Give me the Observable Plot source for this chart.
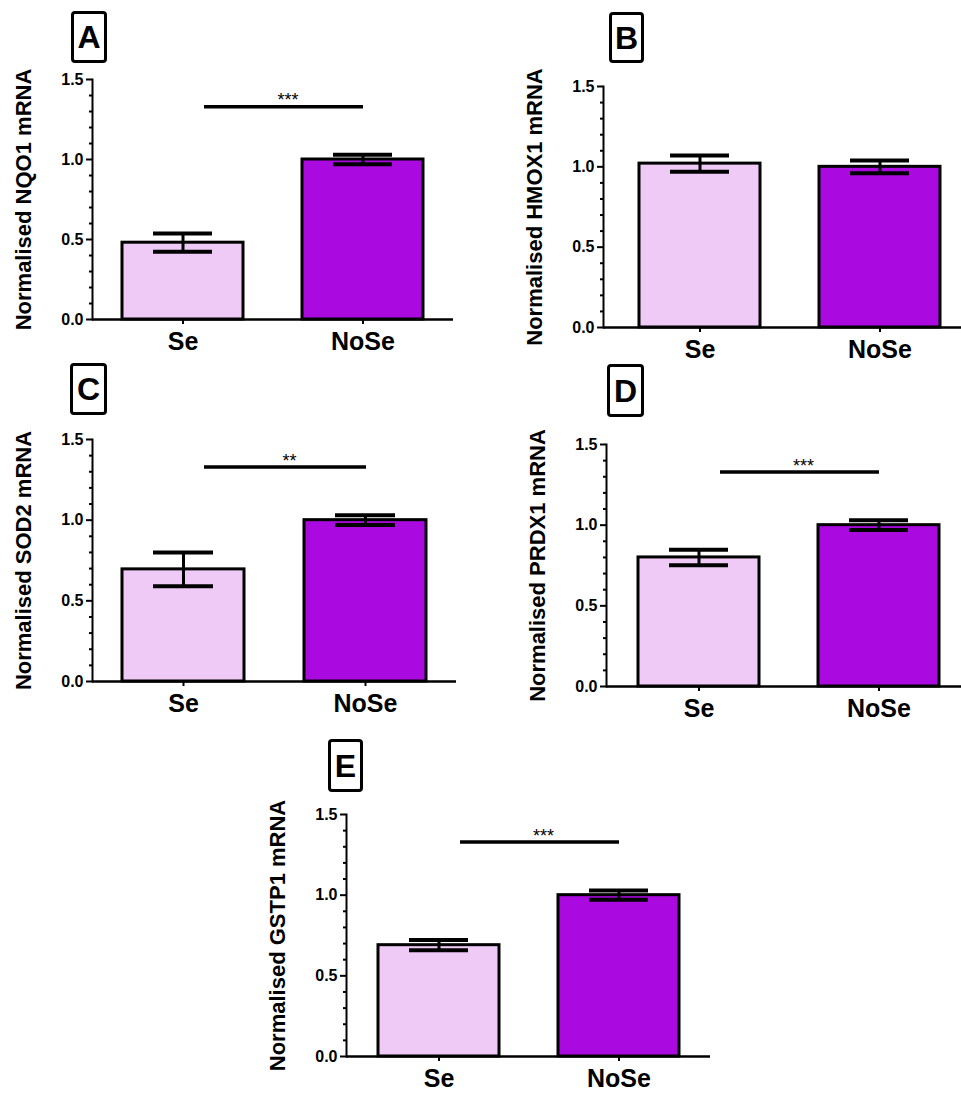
<!DOCTYPE html>
<html>
<head>
<meta charset="utf-8">
<script src="https://cdn.jsdelivr.net/npm/d3@7"></script>
<script src="https://cdn.jsdelivr.net/npm/@observablehq/plot@0.6"></script>
<style>
  html, body { margin: 0; padding: 0; background: #fff; overflow: hidden; }
  #chart { position: relative; width: 961px; height: 1095px; overflow: hidden; background: #fff;
           font-family: "Liberation Sans", Arial, Helvetica, sans-serif; }
  .panel { position: absolute; }
  .letter { position: absolute; box-sizing: border-box; border: 3px solid #000; border-radius: 4px;
            display: flex; align-items: center; justify-content: center;
            font-size: 32px; font-weight: bold; color: #000; line-height: 1; }
</style>
</head>
<body>
<div id="chart"></div>
<script>
// ---- data ----
const groups = ["Se", "NoSe"];
const panelLetters = ["A", "B", "C", "D", "E"];
const genes = ["NQO1", "HMOX1", "SOD2", "PRDX1", "GSTP1"];
const seMean = [0.48, 1.02, 0.695, 0.80, 0.69];
const seSem = [0.057, 0.05, 0.105, 0.048, 0.032];
const noseMean = [1.00, 1.00, 1.00, 1.00, 1.00];
const noseSem = [0.03, 0.04, 0.03, 0.03, 0.029];
const significance = ["***", "", "**", "***", "***"];
const sigLevel = 1.33;
const yMajorTicks = [0, 0.5, 1.0, 1.5];
const yMinorTicks = [0.1, 0.2, 0.3, 0.4, 0.6, 0.7, 0.8, 0.9, 1.1, 1.2, 1.3, 1.4];
const groupColors = ["#efcaf7", "#aa0ae0"];

// ---- layout (pixel frame of each panel) ----
const layout = [
  {left: 92,  right: 453, top: 79,  bottom: 319,  po: 0.167, box: [71, 11, 36, 52]},
  {left: 603, right: 975, top: 86,  bottom: 327,  po: 0.193, box: [609, 12, 35, 51]},
  {left: 92,  right: 456, top: 439, bottom: 681,  po: 0.165, box: [70, 363, 37, 52]},
  {left: 606, right: 970, top: 444, bottom: 686,  po: 0.171, box: [607, 364, 37, 53]},
  {left: 346, right: 710, top: 814, bottom: 1056, po: 0.172, box: [328, 739, 35, 53]}
];

const font = '"Liberation Sans", Arial, Helvetica, sans-serif';
const chart = document.getElementById("chart");
const ML = 92, MR = 20, MT = 79, MB = 50;

panelLetters.forEach((letter, i) => {
  const L = layout[i];
  const data = [
    {group: groups[0], mean: seMean[i], sem: seSem[i]},
    {group: groups[1], mean: noseMean[i], sem: noseSem[i]}
  ];
  const marks = [
    Plot.barY(data, {x: "group", y: "mean", fill: "group", stroke: "#000", strokeWidth: 3}),
    Plot.ruleX(data, {x: "group", y1: d => d.mean - d.sem, y2: d => d.mean + d.sem, stroke: "#000", strokeWidth: 3}),
    Plot.tickY(data, {x: "group", y: d => d.mean + d.sem, insetLeft: 31, insetRight: 31, stroke: "#000", strokeWidth: 4}),
    Plot.tickY(data, {x: "group", y: d => d.mean - d.sem, insetLeft: 31, insetRight: 31, stroke: "#000", strokeWidth: 4}),
    Plot.ruleY([0], {stroke: "#000", strokeWidth: 2.5}),
    Plot.frame({anchor: "left", stroke: "#000", strokeWidth: 2}),
    Plot.axisY({ticks: yMinorTicks, tickSize: 3, tickFormat: () => "", label: null, strokeWidth: 2}),
    Plot.axisY({ticks: yMajorTicks, tickSize: 6, tickPadding: 3, tickFormat: d3.format(".1f"), label: null,
                strokeWidth: 2, fontSize: 16, fontWeight: "bold", fill: "#000"}),
    Plot.axisX({tickSize: 5, tickPadding: 8, label: null, strokeWidth: 2, fontSize: 25, fontWeight: "bold", fill: "#000"}),
    Plot.text([`Normalised ${genes[i]} mRNA`], {text: d => d, frameAnchor: "left", textAnchor: "middle",
                dx: -69, rotate: -90, fontSize: 22, fontWeight: "bold", fill: "#000"})
  ];
  if (significance[i]) {
    marks.push(
      Plot.ruleY([{y: sigLevel}], {y: "y", x1: () => groups[0], x2: () => groups[1],
                  insetLeft: 82, insetRight: 60, stroke: "#000", strokeWidth: 3.5}),
      Plot.text([{s: significance[i], y: sigLevel}], {text: "s", y: "y", dx: 15, dy: -6,
                  fontSize: 18, fill: "#000"})
    );
  }
  const plot = Plot.plot({
    width: ML + (L.right - L.left) + MR,
    height: MT + (L.bottom - L.top) + MB,
    marginLeft: ML, marginRight: MR, marginTop: MT, marginBottom: MB,
    x: {domain: groups, paddingInner: 0.33, paddingOuter: L.po, align: 0.5, label: null},
    y: {domain: [0, 1.5], label: null},
    color: {domain: groups, range: groupColors},
    style: {fontFamily: font, background: "transparent", overflow: "visible", color: "#000"},
    marks
  });
  plot.classList.add("panel");
  plot.style.left = (L.left - ML) + "px";
  plot.style.top = (L.top - MT) + "px";
  chart.appendChild(plot);

  const box = document.createElement("div");
  box.className = "letter";
  box.textContent = letter;
  const [bx, by, bw, bh] = L.box;
  Object.assign(box.style, {left: bx + "px", top: by + "px", width: bw + "px", height: bh + "px"});
  chart.appendChild(box);
});
</script>
</body>
</html>
